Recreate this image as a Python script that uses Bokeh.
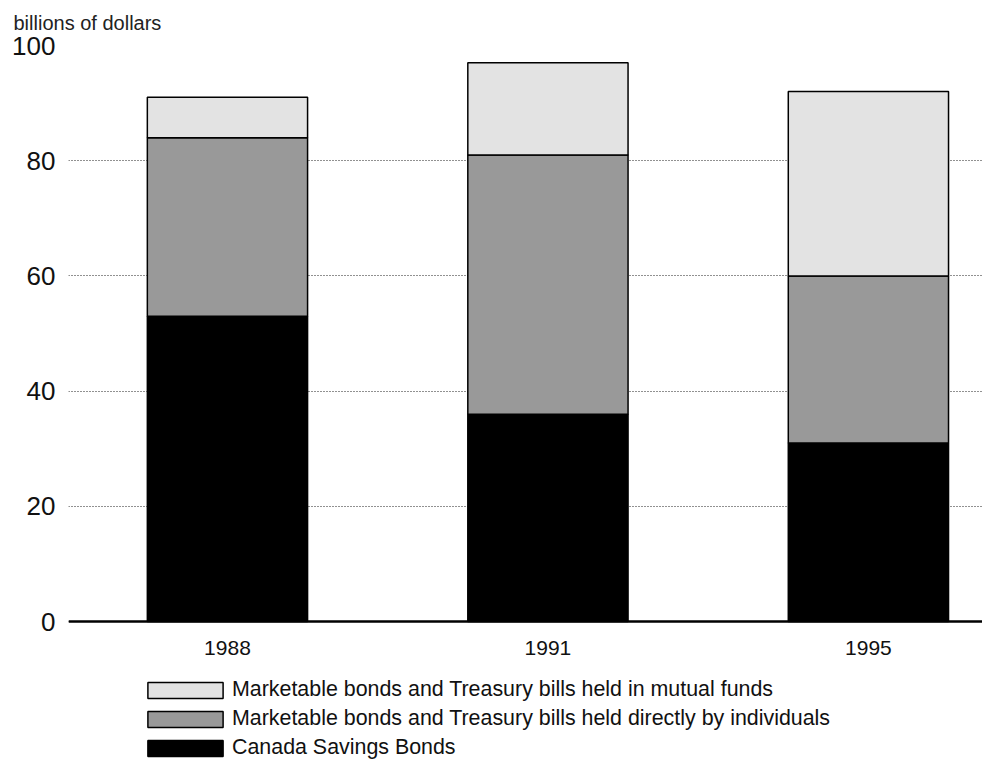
from bokeh.plotting import figure
from bokeh.models import ColumnDataSource, Legend, LegendItem, FixedTicker, Range1d, Title, Span
from bokeh.embed import file_html
from bokeh.resources import INLINE

years = ["1988", "1991", "1995"]
canada_savings_bonds = [53, 36, 31]
held_directly = [31, 45, 29]
mutual_funds = [7, 16, 32]
y_ticks = [0, 20, 40, 60, 80, 100]
series_labels = [
    "Marketable bonds and Treasury bills held in mutual funds",
    "Marketable bonds and Treasury bills held directly by individuals",
    "Canada Savings Bonds",
]

FONT = "Liberation Sans"

src = ColumnDataSource(dict(
    x=list(range(len(years))),
    year=years,
    zero=[0] * len(years),
    csb=canada_savings_bonds,
    direct=held_directly,
    mutual=mutual_funds,
))

# frame extends below zero to leave room for the year labels and the legend
p = figure(frame_width=914, frame_height=715, output_backend="svg", toolbar_location=None,
           x_range=Range1d(-0.496, 2.356), y_range=Range1d(-24.13, 100),
           x_axis_location=None,
           min_border_left=68, min_border_right=0, min_border_top=45, min_border_bottom=0)
p.outline_line_color = None
p.background_fill_color = "white"
p.border_fill_color = "white"

rs = p.vbar_stack(["csb", "direct", "mutual"], x="x", width=0.5, source=src,
                  fill_color=["#000000", "#999999", "#e3e3e3"],
                  line_color="#000000", line_width=1.5)

# baseline (x axis line) and year labels
p.add_layout(Span(location=0, dimension="width", line_color="black", line_width=2.5))
p.text(x="x", y="zero", text="year", source=src,
       text_align="center", text_baseline="middle", y_offset=26,
       text_font_size="21px", text_color="#111111",
       text_font={"value": FONT})

p.yaxis.ticker = FixedTicker(ticks=y_ticks)
p.yaxis.axis_line_color = None
p.yaxis.major_tick_line_color = None
p.yaxis.minor_tick_line_color = None
p.yaxis.major_label_text_font = FONT
p.yaxis.major_label_text_font_size = "26px"
p.yaxis.major_label_text_color = "#111111"
p.yaxis.major_label_standoff = 7

p.xgrid.grid_line_color = None
p.ygrid.ticker = FixedTicker(ticks=y_ticks)
p.ygrid.grid_line_color = "#222222"
p.ygrid.grid_line_dash = "1 2"
p.ygrid.grid_line_width = 1

# unit label above the plot
t = Title(text="billions of dollars", align="left", offset=-55, vertical_align="top",
          text_font=FONT, text_font_size="20px", text_font_style="normal",
          text_color="#222222", standoff=20)
p.add_layout(t, "above")

legend = Legend(items=[
    LegendItem(label=series_labels[0], renderers=[rs[2]]),
    LegendItem(label=series_labels[1], renderers=[rs[1]]),
    LegendItem(label=series_labels[2], renderers=[rs[0]]),
], orientation="vertical", location=(70, 0))
legend.border_line_color = None
legend.background_fill_alpha = 0
legend.glyph_width = 94
legend.glyph_height = 20
legend.label_standoff = 0
legend.label_text_font = FONT
legend.label_text_font_size = "21.4px"
legend.label_text_color = "#111111"
legend.label_height = 25
legend.spacing = 4
legend.padding = 0
legend.margin = 0
p.add_layout(legend, "center")

open("out.html", "w").write(file_html(p, INLINE))
